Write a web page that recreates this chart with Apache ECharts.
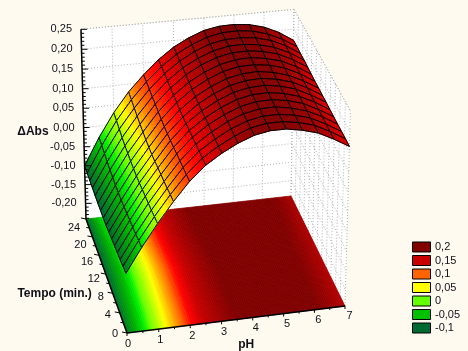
<!DOCTYPE html>
<html>
<head>
<meta charset="utf-8">
<style>
  html, body { margin: 0; padding: 0; background: #fffaf0; }
  #chart { width: 468px; height: 351px; }
</style>
</head>
<body>
<div id="chart"></div>
<script src="https://cdn.jsdelivr.net/npm/echarts@6/dist/echarts.min.js"></script>
<script>
const phValues = [0, 0.5, 1, 1.5, 2, 2.5, 3, 3.5, 4, 4.5, 5, 5.5, 6, 6.5, 7];
const tempoValues = [0, 1.6, 3.2, 4.8, 6.4, 8, 9.6, 11.2, 12.8, 14.4, 16, 17.6, 19.2, 20.8, 22.4, 24];
// one row per tempo value, one column per pH value
const absValues = [
  [-0.090, -0.030, 0.025, 0.075, 0.120, 0.155, 0.180, 0.200, 0.215, 0.222, 0.222, 0.215, 0.204, 0.185, 0.163],
  [-0.092, -0.032, 0.023, 0.073, 0.118, 0.154, 0.179, 0.199, 0.215, 0.222, 0.222, 0.216, 0.205, 0.186, 0.164],
  [-0.095, -0.035, 0.020, 0.070, 0.117, 0.153, 0.178, 0.199, 0.214, 0.222, 0.222, 0.216, 0.205, 0.186, 0.164],
  [-0.097, -0.037, 0.018, 0.068, 0.115, 0.152, 0.178, 0.199, 0.214, 0.222, 0.223, 0.216, 0.205, 0.187, 0.164],
  [-0.099, -0.039, 0.017, 0.067, 0.114, 0.151, 0.178, 0.198, 0.214, 0.222, 0.223, 0.217, 0.206, 0.187, 0.165],
  [-0.101, -0.041, 0.015, 0.065, 0.112, 0.150, 0.177, 0.198, 0.214, 0.222, 0.223, 0.217, 0.206, 0.188, 0.165],
  [-0.103, -0.043, 0.013, 0.063, 0.111, 0.149, 0.177, 0.198, 0.214, 0.222, 0.224, 0.218, 0.207, 0.188, 0.166],
  [-0.105, -0.045, 0.012, 0.062, 0.110, 0.148, 0.177, 0.198, 0.214, 0.222, 0.224, 0.218, 0.207, 0.189, 0.166],
  [-0.105, -0.045, 0.012, 0.062, 0.110, 0.148, 0.177, 0.198, 0.214, 0.222, 0.224, 0.218, 0.207, 0.189, 0.167],
  [-0.105, -0.044, 0.013, 0.063, 0.111, 0.149, 0.178, 0.199, 0.215, 0.223, 0.224, 0.219, 0.208, 0.190, 0.167],
  [-0.105, -0.043, 0.015, 0.065, 0.112, 0.150, 0.179, 0.200, 0.215, 0.223, 0.225, 0.219, 0.209, 0.191, 0.168],
  [-0.104, -0.042, 0.016, 0.067, 0.114, 0.151, 0.180, 0.201, 0.216, 0.224, 0.225, 0.220, 0.210, 0.192, 0.169],
  [-0.103, -0.039, 0.019, 0.070, 0.115, 0.152, 0.181, 0.201, 0.216, 0.224, 0.225, 0.220, 0.210, 0.193, 0.170],
  [-0.102, -0.036, 0.023, 0.073, 0.117, 0.153, 0.181, 0.202, 0.217, 0.224, 0.225, 0.221, 0.211, 0.194, 0.170],
  [-0.101, -0.033, 0.027, 0.077, 0.119, 0.154, 0.182, 0.202, 0.217, 0.225, 0.226, 0.222, 0.211, 0.194, 0.171],
  [-0.100, -0.030, 0.030, 0.080, 0.120, 0.155, 0.183, 0.203, 0.218, 0.225, 0.226, 0.222, 0.212, 0.195, 0.171]
];

const phTicks = [0, 1, 2, 3, 4, 5, 6, 7];
const phMinorTicks = [0.5, 1.5, 2.5, 3.5, 4.5, 5.5, 6.5];
const tempoTicks = [0, 4, 8, 12, 16, 20, 24];
const tempoMinorTicks = [2, 6, 10, 14, 18, 22];
const absTicks = [-0.20, -0.15, -0.10, -0.05, 0, 0.05, 0.10, 0.15, 0.20, 0.25];
const absTickLabels = ['-0,20', '-0,15', '-0,10', '-0,05', '0,00', '0,05', '0,10', '0,15', '0,20', '0,25'];

const legendLabels = ['0,2', '0,15', '0,1', '0,05', '0', '-0,05', '-0,1'];
const legendColors = ['#800000', '#c80000', '#ff6400', '#ffff00', '#64ff00', '#00c000', '#006a30'];

// colour ramps: the floor contour goes dark sooner than the lit surface
const rampColors = ['#006a30', '#00b400', '#00f000', '#64ff00', '#ffff00', '#ff6400', '#ff0000', '#c80000', '#800000'];
const floorLevels = [-0.1, -0.05, -0.02, 0, 0.05, 0.1, 0.125, 0.15, 0.2];
const surfaceLevels = [-0.1, -0.05, -0.02, 0, 0.05, 0.1, 0.14, 0.175, 0.225];

const zFloor = -0.242;
const zTop = 0.25;
const labelFont = '11px "Liberation Sans", Arial, sans-serif';
const titleFont = 'bold 12px "Liberation Sans", Arial, sans-serif';
const textColor = '#101018';

// perspective box view: fitted to the corners of the box, result is in axis units
function project(ph, t, z) {
  const u = ph / 7, v = t / 24, w = (z - zFloor) / (zTop - zFloor);
  const d = 1 + 0.0219 * u + 0.0692 * v - 0.0405 * w;
  return [
    (127 + 225.55 * u - 35.05 * v - 8.63 * w) / d,
    (333 - 20.3 * u - 98.85 * v - 204 * w) / d
  ];
}

function rampColor(z, levels) {
  const hex = (s) => [1, 3, 5].map(i => parseInt(s.substr(i, 2), 16));
  if (z <= levels[0]) return rampColors[0];
  for (let i = 1; i < levels.length; i++) {
    if (z <= levels[i]) {
      const f = (z - levels[i - 1]) / (levels[i] - levels[i - 1]);
      const a = hex(rampColors[i - 1]), b = hex(rampColors[i]);
      return 'rgb(' + a.map((c, k) => Math.round(c + (b[k] - c) * f)).join(',') + ')';
    }
  }
  return rampColors[rampColors.length - 1];
}

// cells, far ones first so the near ones paint over them
const cells = [];
for (let j = tempoValues.length - 2; j >= 0; j--) {
  for (let i = phValues.length - 2; i >= 0; i--) cells.push([i, j]);
}

function renderCell(api, i, j, flat, nu, nv, mesh) {
  const children = [];
  const levels = flat ? floorLevels : surfaceLevels;
  const at = (a, b) => {
    const z = (absValues[j][i] * (1 - a) + absValues[j][i + 1] * a) * (1 - b) +
      (absValues[j + 1][i] * (1 - a) + absValues[j + 1][i + 1] * a) * b;
    const ph = phValues[i] + (phValues[i + 1] - phValues[i]) * a;
    const t = tempoValues[j] + (tempoValues[j + 1] - tempoValues[j]) * b;
    return { z, p: api.coord(project(ph, t, flat ? zFloor : z)) };
  };
  for (let a = 0; a < nu; a++) {
    for (let b = 0; b < nv; b++) {
      const color = rampColor(at((a + 0.5) / nu, (b + 0.5) / nv).z, levels);
      children.push({
        type: 'polygon',
        shape: { points: [at(a / nu, b / nv).p, at((a + 1) / nu, b / nv).p, at((a + 1) / nu, (b + 1) / nv).p, at(a / nu, (b + 1) / nv).p] },
        style: { fill: color, stroke: color, lineWidth: 0.7 }
      });
    }
  }
  if (mesh) {
    const edge = [];
    for (let a = 0; a <= nu; a++) edge.push(at(a / nu, 0).p);
    for (let b = 1; b <= nv; b++) edge.push(at(1, b / nv).p);
    for (let a = nu - 1; a >= 0; a--) edge.push(at(a / nu, 1).p);
    for (let b = nv - 1; b > 0; b--) edge.push(at(0, b / nv).p);
    children.push({
      type: 'polygon',
      shape: { points: edge },
      style: { fill: 'none', stroke: '#000', lineWidth: 1 }
    });
  }
  return { type: 'group', children };
}

function segment(api, a, b, style) {
  const p = api.coord(a), q = api.coord(b);
  return { type: 'line', shape: { x1: p[0], y1: p[1], x2: q[0], y2: q[1] }, style };
}

function renderWalls(params, api) {
  const dots = { stroke: '#b4b4b4', lineWidth: 1, lineDash: [1, 2] };
  const poly = (pts) => ({
    type: 'polygon',
    shape: { points: pts.map(p => api.coord(p)) },
    style: { fill: '#fff' }
  });
  const children = [
    poly([project(0, 24, zFloor), project(7, 24, zFloor), project(7, 24, zTop), project(0, 24, zTop)]),
    poly([project(7, 0, zFloor), project(7, 24, zFloor), project(7, 24, zTop), project(7, 0, zTop)])
  ];
  absTicks.forEach(z => {
    children.push(segment(api, project(0, 24, z), project(7, 24, z), dots));
    children.push(segment(api, project(7, 24, z), project(7, 0, z), dots));
  });
  phTicks.forEach(ph => children.push(segment(api, project(ph, 24, zFloor), project(ph, 24, zTop), dots)));
  tempoTicks.concat(tempoMinorTicks).forEach(t => children.push(segment(api, project(7, t, zFloor), project(7, t, zTop), dots)));
  children.push(segment(api, project(0, 24, zTop), project(7, 24, zTop), dots));
  children.push(segment(api, project(7, 24, zTop), project(7, 0, zTop), dots));
  return { type: 'group', children };
}

function label(api, pos, dx, dy, text, font, align) {
  const p = api.coord(pos);
  return {
    type: 'text',
    style: { text, x: p[0] + dx, y: p[1] + dy, font, fill: textColor, align: align || 'center', verticalAlign: 'middle' }
  };
}

function renderAxes(params, api) {
  const heavy = { stroke: '#000', lineWidth: 1.5 };
  const thin = { stroke: '#000', lineWidth: 1 };
  const children = [
    segment(api, project(0, 24, zFloor), project(0, 24, zTop), heavy),
    segment(api, project(0, 0, zFloor), project(0, 24, zFloor), heavy),
    segment(api, project(0, 0, zFloor), project(7, 0, zFloor), heavy)
  ];
  const tick = (pos, dx, dy) => {
    const p = api.coord(pos);
    return { type: 'line', shape: { x1: p[0], y1: p[1], x2: p[0] + dx, y2: p[1] + dy }, style: thin };
  };
  // z axis: minor tick every 0.01
  for (let k = -24; k <= 25; k++) {
    const major = k % 5 === 0;
    children.push(tick(project(0, 24, k / 100), major ? 6 : 3, 0));
  }
  tempoTicks.forEach(t => children.push(tick(project(0, t, zFloor), -5, -1)));
  tempoMinorTicks.forEach(t => children.push(tick(project(0, t, zFloor), -3, -0.5)));
  phTicks.forEach(ph => children.push(tick(project(ph, 0, zFloor), 0, 3)));
  phMinorTicks.forEach(ph => children.push(tick(project(ph, 0, zFloor), 0, 2)));

  absTicks.forEach((z, k) => children.push(label(api, project(0, 24, z), -9, 0, absTickLabels[k], labelFont, 'right')));
  tempoTicks.forEach(t => children.push(label(api, project(0, t, zFloor), -12, 1 + 8 * t / 24, String(t), labelFont)));
  phTicks.forEach(ph => children.push(label(api, project(ph, 0, zFloor), 1 + ph / 2, 11 - ph / 7, String(ph), labelFont)));

  children.push(label(api, project(0, 24, 0), -35, 4, 'ΔAbs', titleFont, 'right'));
  children.push(label(api, project(0, 12, zFloor), -14, 20, 'Tempo (min.)', titleFont, 'right'));
  children.push(label(api, project(3.5, 0, zFloor), 9, 25, 'pH', titleFont));
  return { type: 'group', children };
}

const legendGraphic = [];
legendLabels.forEach((text, k) => {
  const y = 241.5 + k * 13.5;
  legendGraphic.push({
    type: 'rect', left: 412, top: y,
    shape: { width: 18, height: 10 },
    style: { fill: legendColors[k], stroke: '#000', lineWidth: 1 }
  });
  legendGraphic.push({
    type: 'text', left: 435, top: y,
    style: { text, font: labelFont, fill: textColor }
  });
});

const chart = echarts.init(document.getElementById('chart'), null, { renderer: 'canvas' });
chart.setOption({
  backgroundColor: '#fffaf0',
  animation: false,
  grid: { left: 0, right: 0, top: 0, bottom: 0 },
  xAxis: { type: 'value', min: 0, max: 468, show: false },
  yAxis: { type: 'value', min: 0, max: 351, inverse: true, show: false },
  graphic: legendGraphic,
  series: [
    { type: 'custom', coordinateSystem: 'cartesian2d', silent: true, clip: false, data: [[0, 0]], renderItem: renderWalls, z: 1 },
    {
      type: 'custom', coordinateSystem: 'cartesian2d', silent: true, clip: false, data: cells, z: 2,
      renderItem: (params, api) => renderCell(api, api.value(0), api.value(1), true, 8, 3, false)
    },
    {
      type: 'custom', coordinateSystem: 'cartesian2d', silent: true, clip: false, data: cells, z: 3,
      renderItem: (params, api) => renderCell(api, api.value(0), api.value(1), false, 6, 3, true)
    },
    { type: 'custom', coordinateSystem: 'cartesian2d', silent: true, clip: false, data: [[0, 0]], renderItem: renderAxes, z: 4 }
  ]
});
window.addEventListener('resize', () => chart.resize());
</script>
</body>
</html>
